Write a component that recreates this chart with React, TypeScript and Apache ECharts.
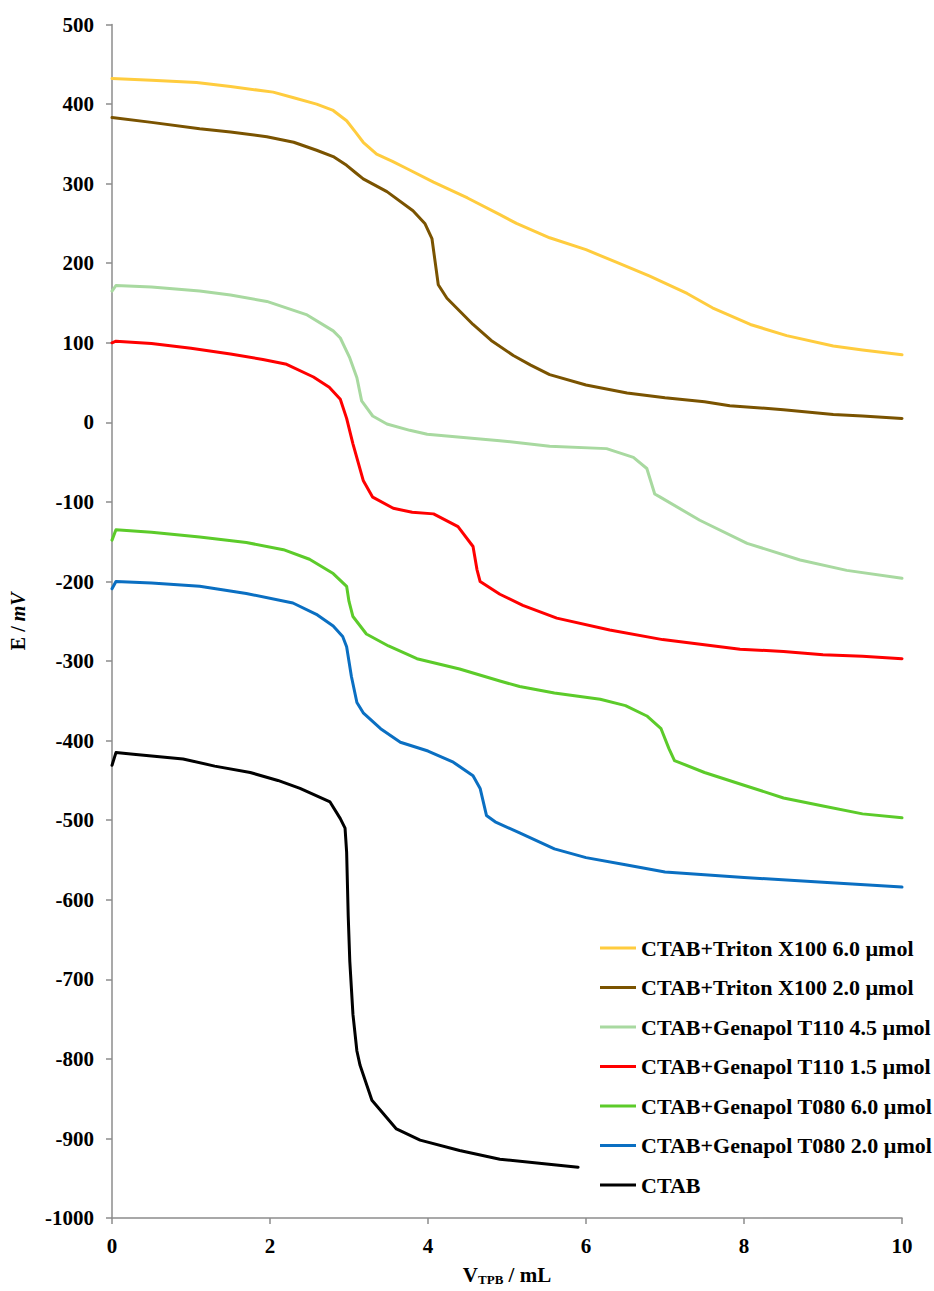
import React, { useEffect, useRef } from "react";
import * as echarts from "echarts";

const seriesNames = [
  "CTAB+Triton X100 6.0 µmol",
  "CTAB+Triton X100 2.0 µmol",
  "CTAB+Genapol T110 4.5 µmol",
  "CTAB+Genapol T110 1.5 µmol",
  "CTAB+Genapol T080 6.0 µmol",
  "CTAB+Genapol T080 2.0 µmol",
  "CTAB",
];

const seriesColors = ["#FFCC3E", "#7A5300", "#A8D9A0", "#FF0000", "#5CCB2A", "#0A6FC2", "#000000"];

const tritonX100_6: number[][] = [
  [0, 432], [0.5, 430], [1.07, 427], [1.5, 422], [2.04, 415], [2.3, 408], [2.59, 400], [2.8, 392],
  [2.97, 379], [3.08, 365], [3.18, 352], [3.35, 337], [3.55, 328], [3.73, 319], [4.07, 302], [4.5, 282],
  [4.91, 261], [5.12, 250], [5.54, 232], [6.0, 217], [6.39, 201], [6.8, 184], [7.28, 162], [7.6, 144],
  [8.08, 123], [8.54, 109], [9.13, 96], [9.5, 91], [10, 85],
];

const tritonX100_2: number[][] = [
  [0, 383], [0.5, 377], [1.11, 369], [1.5, 365], [1.96, 359], [2.3, 352], [2.59, 342], [2.8, 334],
  [2.97, 323], [3.08, 314], [3.18, 306], [3.48, 290], [3.81, 266], [3.96, 250], [4.05, 231], [4.09, 202],
  [4.13, 173], [4.24, 156], [4.57, 123], [4.8, 103], [5.08, 84], [5.3, 72], [5.54, 60], [6.0, 47],
  [6.52, 37], [7.0, 31], [7.5, 26], [7.82, 21], [8.5, 16], [9.13, 10], [9.5, 8], [10, 5],
];

const genapolT110_45: number[][] = [
  [0, 165], [0.05, 172], [0.5, 170], [1.11, 165], [1.5, 160], [1.96, 152], [2.47, 135], [2.8, 115],
  [2.89, 106], [3.01, 81], [3.1, 56], [3.16, 27], [3.3, 8], [3.48, -2], [3.77, -10], [3.99, -15],
  [4.66, -21], [4.91, -23], [5.54, -30], [6.26, -33], [6.6, -44], [6.77, -58], [6.87, -90], [6.94, -94],
  [7.44, -123], [8.04, -152], [8.71, -173], [9.3, -186], [10, -196],
];

const genapolT110_15: number[][] = [
  [0, 100], [0.05, 102], [0.5, 99], [1.0, 93], [1.5, 86], [1.91, 79], [2.21, 73], [2.55, 57],
  [2.75, 44], [2.89, 29], [2.97, 5], [3.05, -27], [3.18, -73], [3.3, -94], [3.56, -108], [3.8, -113],
  [4.07, -115], [4.38, -131], [4.57, -156], [4.62, -185], [4.66, -200], [4.91, -216], [5.2, -230],
  [5.63, -246], [6.3, -261], [6.97, -273], [7.95, -285], [8.5, -288], [9.0, -292], [9.5, -294], [10, -297],
];

const genapolT080_6: number[][] = [
  [0, -148], [0.05, -135], [0.5, -138], [1.11, -144], [1.7, -151], [2.17, -160], [2.5, -172], [2.8, -190],
  [2.97, -206], [3.0, -225], [3.05, -244], [3.22, -266], [3.5, -281], [3.86, -297], [4.4, -310],
  [4.91, -325], [5.16, -332], [5.6, -340], [6.18, -348], [6.5, -356], [6.77, -369], [6.95, -385],
  [7.05, -410], [7.12, -425], [7.5, -440], [8.0, -456], [8.5, -472], [9.0, -482], [9.5, -492], [10, -497],
];

const genapolT080_2: number[][] = [
  [0, -209], [0.05, -200], [0.5, -202], [1.11, -206], [1.7, -215], [2.29, -227], [2.6, -242], [2.8, -256],
  [2.92, -269], [2.97, -282], [3.03, -319], [3.1, -352], [3.18, -365], [3.4, -385], [3.65, -402],
  [4.0, -413], [4.32, -427], [4.57, -444], [4.66, -460], [4.74, -494], [4.85, -502], [5.16, -516],
  [5.6, -536], [6.0, -547], [6.5, -556], [7.0, -565], [8.0, -572], [9.0, -578], [10, -584],
];

const ctab: number[][] = [
  [0, -431], [0.05, -415], [0.27, -417], [0.9, -423], [1.3, -432], [1.75, -440], [2.1, -450], [2.38, -460],
  [2.76, -477], [2.89, -498], [2.95, -510], [2.97, -540], [2.99, -620], [3.01, -677], [3.05, -744],
  [3.1, -790], [3.14, -808], [3.29, -852], [3.6, -888], [3.9, -902], [4.4, -915], [4.91, -926],
  [5.5, -932], [5.9, -936],
];

const seriesData = [tritonX100_6, tritonX100_2, genapolT110_45, genapolT110_15, genapolT080_6, genapolT080_2, ctab];

const xTicks = { min: 0, max: 10, interval: 2 };
const yTicks = { min: -1000, max: 500, interval: 100 };

const FONT = "'Liberation Serif', 'Times New Roman', serif";
const AXIS_GRAY = "#8C8C8C";

export default function App() {
  const ref = useRef<HTMLDivElement>(null);
  useEffect(() => {
    if (!ref.current) return;
    const chart = echarts.init(ref.current, undefined, { renderer: "svg" });
    chart.setOption({
      animation: false,
      backgroundColor: "#ffffff",
      grid: { left: 112, right: 32, top: 24.5, bottom: 66, containLabel: false },
      legend: {
        orient: "vertical",
        left: 595,
        top: 932,
        icon: "rect",
        itemWidth: 36,
        itemHeight: 3,
        itemGap: 17.5,
        selectedMode: false,
        data: seriesNames,
        textStyle: { fontFamily: FONT, fontWeight: "bold", fontSize: 22, color: "#000", lineHeight: 22 },
      },
      xAxis: {
        type: "value",
        min: xTicks.min,
        max: xTicks.max,
        interval: xTicks.interval,
        splitLine: { show: false },
        axisLine: { onZero: false, lineStyle: { color: AXIS_GRAY, width: 1.5 } },
        axisTick: { show: true, length: 6, lineStyle: { color: AXIS_GRAY, width: 1.5 } },
        axisLabel: {
          margin: 17, fontFamily: FONT, fontWeight: "bold", fontSize: 21, color: "#000",
          formatter: (v: number) => String(v),
        },
        name: "{n|V}{s|TPB}{n| / mL}",
        nameLocation: "middle",
        nameGap: 42,
        nameTextStyle: {
          rich: {
            n: { fontFamily: FONT, fontWeight: "bold", fontSize: 21, color: "#000", lineHeight: 22 },
            s: {
              fontFamily: FONT, fontWeight: "bold", fontSize: 13, color: "#000", lineHeight: 13,
              verticalAlign: "bottom", padding: [12, 0, 0, 0],
            },
          },
        },
      },
      yAxis: {
        type: "value",
        min: yTicks.min,
        max: yTicks.max,
        interval: yTicks.interval,
        splitLine: { show: false },
        axisLine: { show: true, onZero: false, lineStyle: { color: AXIS_GRAY, width: 1.5 } },
        axisTick: { show: true, length: 6, lineStyle: { color: AXIS_GRAY, width: 1.5 } },
        axisLabel: {
          margin: 18, fontFamily: FONT, fontWeight: "bold", fontSize: 21, color: "#000",
          formatter: (v: number) => String(v),
        },
        name: "{n|E / }{i|mV}",
        nameLocation: "middle",
        nameRotate: 90,
        nameGap: 84,
        nameTextStyle: {
          rich: {
            n: { fontFamily: FONT, fontWeight: "bold", fontSize: 20, color: "#000" },
            i: { fontFamily: FONT, fontWeight: "bold", fontStyle: "italic", fontSize: 20, color: "#000" },
          },
        },
      },
      series: seriesNames.map((name, i) => ({
        name,
        type: "line",
        data: seriesData[i],
        symbol: "none",
        showSymbol: false,
        smooth: false,
        lineStyle: { color: seriesColors[i], width: 3, join: "round", cap: "round" },
        itemStyle: { color: seriesColors[i] },
        z: 10 - i,
      })),
    });
    return () => chart.dispose();
  }, []);
  return (
    <div
      ref={ref}
      style={{ position: "absolute", left: 0, top: 0, width: 934, height: 1291, background: "#fff" }}
    />
  );
}
